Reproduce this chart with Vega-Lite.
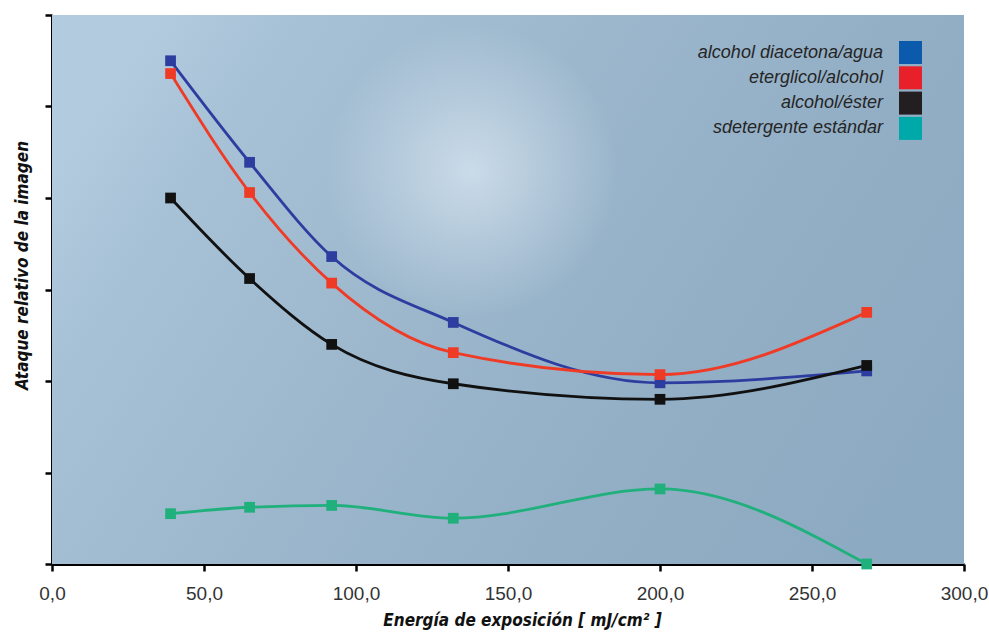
{
  "$schema": "https://vega.github.io/schema/vega-lite/v6.json",
  "width": 912,
  "height": 549,
  "autosize": {"type": "none"},
  "padding": {"left": 52, "top": 15, "right": 25, "bottom": 77},
  "background": "white",
  "config": {"view": {"stroke": null}, "font": "Liberation Sans"},
  "datasets": {
    "series": [
      {"serie": "alcohol diacetona/agua", "energia": 39, "ataque": 5.50},
      {"serie": "alcohol diacetona/agua", "energia": 65, "ataque": 4.39},
      {"serie": "alcohol diacetona/agua", "energia": 92, "ataque": 3.36},
      {"serie": "alcohol diacetona/agua", "energia": 132, "ataque": 2.64},
      {"serie": "alcohol diacetona/agua", "energia": 200, "ataque": 1.98},
      {"serie": "alcohol diacetona/agua", "energia": 268, "ataque": 2.11},
      {"serie": "eterglicol/alcohol", "energia": 39, "ataque": 5.36},
      {"serie": "eterglicol/alcohol", "energia": 65, "ataque": 4.06},
      {"serie": "eterglicol/alcohol", "energia": 92, "ataque": 3.07},
      {"serie": "eterglicol/alcohol", "energia": 132, "ataque": 2.31},
      {"serie": "eterglicol/alcohol", "energia": 200, "ataque": 2.07},
      {"serie": "eterglicol/alcohol", "energia": 268, "ataque": 2.75},
      {"serie": "alcohol/éster", "energia": 39, "ataque": 4.00},
      {"serie": "alcohol/éster", "energia": 65, "ataque": 3.12},
      {"serie": "alcohol/éster", "energia": 92, "ataque": 2.40},
      {"serie": "alcohol/éster", "energia": 132, "ataque": 1.97},
      {"serie": "alcohol/éster", "energia": 200, "ataque": 1.80},
      {"serie": "alcohol/éster", "energia": 268, "ataque": 2.17},
      {"serie": "sdetergente estándar", "energia": 39, "ataque": 0.55},
      {"serie": "sdetergente estándar", "energia": 65, "ataque": 0.62},
      {"serie": "sdetergente estándar", "energia": 92, "ataque": 0.64},
      {"serie": "sdetergente estándar", "energia": 132, "ataque": 0.50},
      {"serie": "sdetergente estándar", "energia": 200, "ataque": 0.82},
      {"serie": "sdetergente estándar", "energia": 268, "ataque": 0.00}
    ]
  },
  "layer": [
    {
      "data": {"values": [{}]},
      "mark": {
        "type": "rect",
        "color": {
          "gradient": "linear",
          "x1": 0, "y1": 0.3, "x2": 1, "y2": 0.7,
          "stops": [
            {"offset": 0, "color": "#b3cbdf"},
            {"offset": 0.12, "color": "#a7c1d6"},
            {"offset": 0.4, "color": "#9db8cd"},
            {"offset": 0.7, "color": "#93afc6"},
            {"offset": 1, "color": "#8caac1"}
          ]
        }
      },
      "encoding": {}
    },
    {
      "data": {"values": [{}]},
      "mark": {
        "type": "rect",
        "color": {
          "gradient": "radial",
          "x1": 0.46, "y1": 0.37, "x2": 0.46, "y2": 0.37, "r1": 0, "r2": 0.16,
          "stops": [
            {"offset": 0, "color": "rgba(232,242,250,0.6)"},
            {"offset": 1, "color": "rgba(232,242,250,0)"}
          ]
        }
      },
      "encoding": {}
    },
    {
      "data": {"name": "series"},
      "mark": {"type": "line", "interpolate": "monotone", "strokeWidth": 2.8},
      "encoding": {
        "x": {
          "field": "energia", "type": "quantitative",
          "scale": {"domain": [0, 300], "nice": false, "zero": false},
          "axis": {
            "values": [0, 50, 100, 150, 200, 250, 300],
            "labelExpr": "replace(format(datum.value, '.1f'), '.', ',')",
            "grid": false,
            "domainColor": "#000", "domainWidth": 3,
            "tickColor": "#000", "tickWidth": 2.5, "tickSize": 7,
            "labelFont": "Liberation Sans", "labelFontSize": 19, "labelColor": "#333",
            "labelPadding": 13, "labelBaseline": "top", "labelFlush": false,
            "title": "Energía de exposición [ mJ/cm² ]",
            "titleFont": "DejaVu Sans Condensed, Liberation Sans, sans-serif", "titleFontSize": 17,
            "titleFontWeight": "bold", "titleFontStyle": "italic", "titleColor": "#111",
            "titleX": 470, "titleY": 56, "titleBaseline": "middle", "titleAlign": "center"
          }
        },
        "y": {
          "field": "ataque", "type": "quantitative",
          "scale": {"domain": [0, 6], "nice": false},
          "axis": {
            "values": [0, 1, 2, 3, 4, 5, 6],
            "labels": false,
            "grid": false,
            "domainColor": "#000", "domainWidth": 3,
            "tickColor": "#000", "tickWidth": 2.5, "tickSize": 7,
            "title": "Ataque relativo de la imagen",
            "titleFont": "DejaVu Sans Condensed, Liberation Sans, sans-serif", "titleFontSize": 17,
            "titleFontWeight": "bold", "titleFontStyle": "italic", "titleColor": "#111",
            "titleAngle": 270, "titleX": -30, "titleY": 250,
            "titleBaseline": "middle", "titleAlign": "center"
          }
        },
        "color": {
          "field": "serie", "type": "nominal",
          "scale": {
            "domain": ["alcohol diacetona/agua", "eterglicol/alcohol", "alcohol/éster", "sdetergente estándar"],
            "range": ["#2d3c9f", "#ef3b26", "#111111", "#1fb07c"]
          },
          "legend": null
        }
      }
    },
    {
      "data": {"name": "series"},
      "mark": {"type": "point", "shape": "square", "filled": true, "size": 115, "opacity": 1},
      "encoding": {
        "x": {"field": "energia", "type": "quantitative"},
        "y": {"field": "ataque", "type": "quantitative"},
        "color": {"field": "serie", "type": "nominal", "legend": null}
      }
    },
    {
      "data": {"name": "series"},
      "mark": {"type": "point", "shape": "square", "filled": true, "opacity": 0},
      "encoding": {
        "x": {"field": "energia", "type": "quantitative"},
        "y": {"field": "ataque", "type": "quantitative"},
        "fill": {
          "field": "serie", "type": "nominal",
          "sort": ["alcohol diacetona/agua", "eterglicol/alcohol", "alcohol/éster", "sdetergente estándar"],
          "scale": {
            "range": ["#0b5aab", "#e8202a", "#231f20", "#00a9a9"]
          },
          "legend": {
            "orient": "none", "legendX": 847, "legendY": 26,
            "title": null, "padding": 0,
            "symbolType": "square", "symbolSize": 529, "symbolStrokeWidth": 0,
            "symbolOpacity": 1,
            "labelAlign": "right", "labelOffset": -39,
            "labelFont": "Liberation Sans", "labelFontSize": 18, "labelFontStyle": "italic",
            "labelColor": "#252525", "labelLimit": 400,
            "rowPadding": 2.3
          }
        }
      }
    }
  ]
}
